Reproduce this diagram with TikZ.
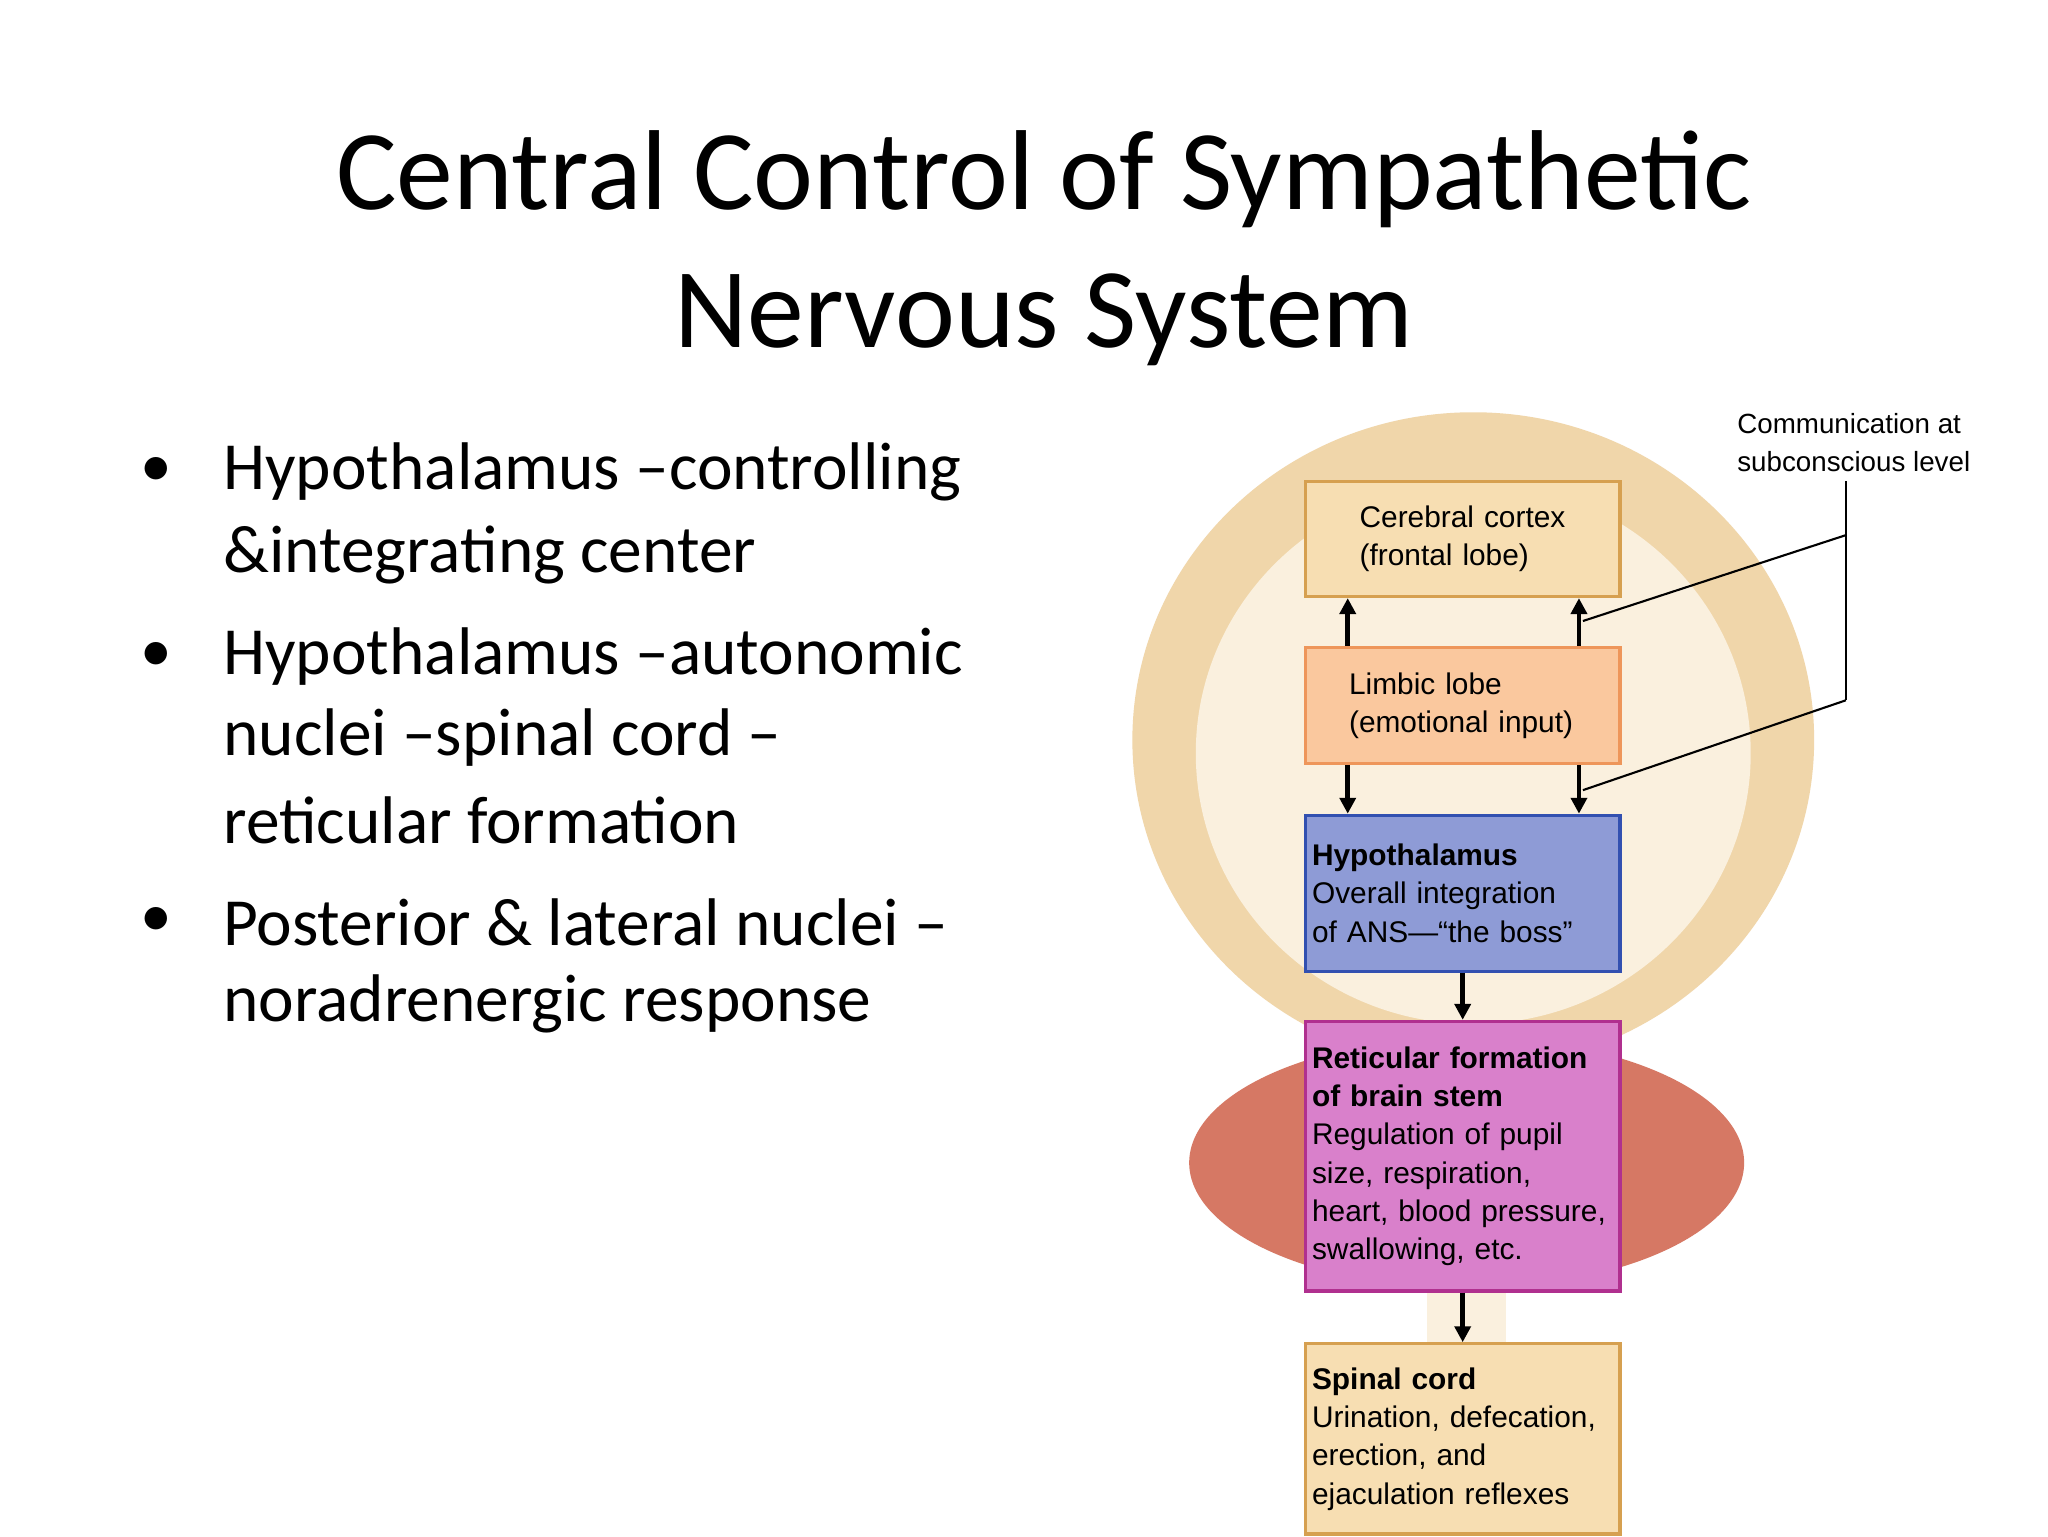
\documentclass[tikz,border=0pt]{standalone}
\usepackage{fontspec}
\setmainfont{Carlito}
\newfontfamily\boxfont{Liberation Sans}[Ligatures=TeX]
\usetikzlibrary{arrows.meta,positioning}
\definecolor{ctxfill}{RGB}{247,222,178}
\definecolor{ctxdraw}{RGB}{214,160,80}
\definecolor{limfill}{RGB}{250,200,158}
\definecolor{limdraw}{RGB}{238,150,90}
\definecolor{hypfill}{RGB}{142,155,214}
\definecolor{hypdraw}{RGB}{50,80,176}
\definecolor{retfill}{RGB}{217,128,203}
\definecolor{retdraw}{RGB}{176,48,143}
\definecolor{braintan}{RGB}{240,214,170}
\definecolor{brainin}{RGB}{250,240,222}
\definecolor{cblred}{RGB}{214,120,100}
\tikzset{
  box/.style={draw, line width=1.2pt, minimum width=119pt, inner sep=2pt,
    align=left, font=\boxfont\fontsize{11.3}{14.5}\selectfont, text width=114pt},
  flow/.style={-{Triangle[length=6pt,width=6pt]}, line width=1.8pt},
  bul/.style={anchor=west, font=\fontsize{25.5}{30}\selectfont}
}
\begin{document}
\begin{tikzpicture}[x=0.5pt,y=-0.5pt]
\useasboundingbox (0,0) rectangle (1550,1162.5);
\fill[white] (0,0) rectangle (1550,1162.5);
%title
\node[font=\fontsize{43}{52}\selectfont, align=center] (title) at (790,188)
  {Central Control of Sympathetic\\Nervous System};
%bullets
\foreach \y in {357,497,698}
  \node[font=\fontsize{24}{30}\selectfont] at (118,\y) {\textbullet};
\node[bul] (b1) at (162,357) {Hypothalamus --controlling};
\node[bul] at (162,420) {\&integrating center};
\node[bul] (b2) at (162,497) {Hypothalamus --autonomic};
\node[bul] at (162,558) {nuclei --spinal cord --};
\node[bul] at (162,621) {reticular formation};
\node[bul] (b3) at (162,698) {Posterior \& lateral nuclei --};
\node[bul] at (162,760) {noradrenergic response};
%brain
\fill[cblred] (1110,880) ellipse (210 and 95);
\fill[brainin] (1080,900) rectangle (1140,1162);
\fill[braintan] (1115,560) ellipse (258 and 248);
\fill[brainin] (1115,570) ellipse (210 and 205);
%boxes
\node[box, fill=ctxfill, draw=ctxdraw, minimum height=43.5pt] (ctx) at (1107,408)
  {\hspace*{18pt}Cerebral cortex\\\hspace*{18pt}(frontal lobe)};
\node[box, fill=limfill, draw=limdraw, minimum height=44pt] (lim) at (1107,534)
  {\hspace*{14pt}Limbic lobe\\\hspace*{14pt}(emotional input)};
\node[box, fill=hypfill, draw=hypdraw, minimum height=59pt] (hyp) at (1107,676)
  {\textbf{Hypothalamus}\\Overall integration\\of ANS---``the boss''};
\node[box, fill=retfill, draw=retdraw, minimum height=102pt] (ret) at (1107,875)
  {\textbf{Reticular formation}\\\textbf{of brain stem}\\Regulation of pupil\\size, respiration,\\heart, blood pressure,\\swallowing, etc.};
\node[box, fill=ctxfill, draw=ctxdraw, minimum height=72pt] (spc) at (1107,1089)
  {\textbf{Spinal cord}\\Urination, defecation,\\erection, and\\ejaculation reflexes};
%arrows
\draw[flow] ([xshift=-43.5pt]lim.north) -- ([xshift=-43.5pt]ctx.south);
\draw[flow] ([xshift=44pt]lim.north) -- ([xshift=44pt]ctx.south);
\draw[flow] ([xshift=-43.5pt]lim.south) -- ([xshift=-43.5pt]hyp.north);
\draw[flow] ([xshift=44pt]lim.south) -- ([xshift=44pt]hyp.north);
\draw[flow] (hyp) -- (ret);
\draw[flow] (ret) -- (spc);
%label
\node[font=\boxfont\fontsize{10.5}{14.5}\selectfont, align=left] (com) at (1403,335)
  {Communication at\\subconscious level};
\coordinate (cu) at (1397,405);
\coordinate (cd) at (1397,530);
\draw[line width=0.8pt] (com.south -| cu) -- (cd);
\draw[line width=0.8pt] (cu) -- (1198,470);
\draw[line width=0.8pt] (cd) -- (1198,598);
\end{tikzpicture}
\end{document}
